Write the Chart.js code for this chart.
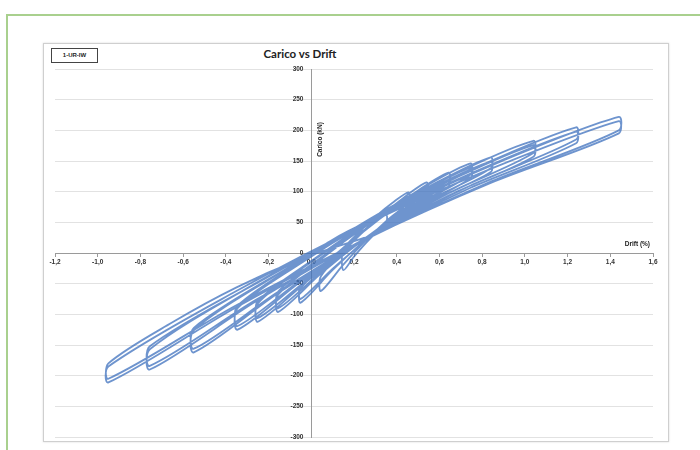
<!DOCTYPE html>
<html lang="it">
<head>
<meta charset="utf-8">
<title>Carico vs Drift</title>
<script src="https://cdn.jsdelivr.net/npm/chart.js@4.4.1/dist/chart.umd.min.js"></script>
<style>
    html, body { margin: 0; padding: 0; background: #fff; }
    body { width: 700px; height: 450px; position: relative; overflow: hidden; }
    .frame { position: absolute; left: 6px; top: 14px; width: 740px; height: 480px; border: 2px solid #a9d08e; }
    .plot-box { position: absolute; left: 43px; top: 43px; width: 624px; height: 397px; border: 1px solid #cfcfcf; box-shadow: 0 0 2px rgba(0,0,0,0.15); }
    .title { position: absolute; left: 230px; width: 140px; top: 47px; text-align: center; font: bold 11.5px 'Lato', sans-serif; color: #222; }
    .tag { position: absolute; left: 51px; top: 48px; width: 45px; height: 13px; border: 1px solid #444; font: bold 6px 'Liberation Sans', sans-serif; line-height: 13px; text-align: center; color: #222; }
    canvas { position: absolute; left: 0; top: 0; }
</style>
</head>
<body>
<div class="frame"></div>
<div class="plot-box"></div>
<div class="title">Carico vs Drift</div>
<div class="tag">1-UR-IW</div>
<canvas id="hysteresisChart" width="700" height="450"></canvas>

<script>
// Drift (%) - one row per cycle: loading branch, peak, drop, unloading branch, negative peak, rise
const drift = [
    0,
    0.088, 0.175, 0.263, 0.35, 0.35, 0.3, 0.25, 0.2, 0.15, 0.15,
    0.226, 0.303, 0.379, 0.455, 0.455, 0.353, 0.25, 0.148, 0.045, 0.045,
    0.169, 0.293, 0.416, 0.54, 0.54, 0.393, 0.245, 0.098, -0.05, -0.05,
    0.098, 0.245, 0.393, 0.54, 0.54, 0.393, 0.245, 0.098, -0.05, -0.05,
    0.123, 0.297, 0.47, 0.643, 0.643, 0.444, 0.244, 0.045, -0.155, -0.155,
    0.045, 0.244, 0.444, 0.643, 0.643, 0.444, 0.244, 0.045, -0.155, -0.155,
    0.07, 0.296, 0.521, 0.746, 0.746, 0.497, 0.248, -0.001, -0.25, -0.25,
    -0.001, 0.248, 0.497, 0.746, 0.746, 0.497, 0.248, -0.001, -0.25, -0.25,
    0.023, 0.295, 0.568, 0.84, 0.84, 0.544, 0.248, -0.049, -0.345, -0.345,
    -0.049, 0.248, 0.544, 0.84, 0.84, 0.544, 0.248, -0.049, -0.345, -0.345,
    0.001, 0.348, 0.694, 1.04, 1.04, 0.643, 0.245, -0.153, -0.55, -0.55,
    -0.153, 0.245, 0.643, 1.04, 1.04, 0.643, 0.245, -0.153, -0.55, -0.55,
    -0.103, 0.345, 0.793, 1.24, 1.24, 0.741, 0.242, -0.257, -0.756, -0.756,
    -0.257, 0.242, 0.741, 1.24, 1.24, 0.741, 0.242, -0.257, -0.756, -0.756,
    -0.207, 0.342, 0.891, 1.44, 1.44, 0.843, 0.245, -0.353, -0.95, -0.95,
    -0.353, 0.245, 0.843, 1.44, 1.44, 0.843, 0.245, -0.353, -0.95, -0.95,
    -0.65, -0.35, -0.05, 0.25
];

// Carico (kN), same order as drift
const carico = [
    0,
    19.3, 36, 50.3, 62, 48, 32, 14, -6, -28, 5,
    34.5, 60, 81.5, 99, 83, 52.7, 18.5, -19.8, -62, -38,
    9.3, 50.5, 85.8, 115, 99, 61.5, 19, -28.5, -81, -58,
    -9, 35, 74, 108, 92, 57, 17.5, -26.5, -75, -53,
    0.6, 51.5, 95.1, 131, 114, 71.3, 22, -33.7, -96, -68,
    -10.2, 41, 85.8, 124, 108, 67.5, 21, -31.5, -90, -63,
    -1, 57, 106, 146, 128, 79.3, 23, -40.7, -112, -82,
    -14.7, 44.5, 95.8, 139, 122, 75.5, 22, -38.5, -106, -78,
    -7.5, 57, 111.5, 156, 138, 85, 23.5, -46.5, -125, -90,
    -16.7, 47.5, 102.8, 149, 132, 81.2, 22.5, -44.3, -119, -86,
    -3.7, 70.5, 132.8, 183, 163, 97.5, 21.5, -65, -162, -126,
    -34, 47, 117, 176, 157, 93.7, 20.5, -62.8, -156, -122,
    -22.9, 66.5, 142.6, 205, 185, 109.2, 21.5, -78.3, -190, -157,
    -48.7, 46.5, 128.8, 198, 179, 105.5, 20.5, -76, -184, -152,
    -39.7, 62.5, 149.8, 222, 200, 116.7, 20.5, -88.8, -211, -185,
    -62.5, 45, 137.5, 215, 195, 114.5, 21, -85.5, -205, -180,
    -113, -56, -10, 25
];

const xRange = [-1.2, 1.6];
const xStep = 0.2;
const yRange = [-300, 300];
const yStep = 50;
const xTitle = 'Drift (%)';
const yTitle = 'Carico (kN)';

const AXIS_COLOR = '#9a9a9a';
const TICK_FONT = { family: "'Liberation Sans', sans-serif", size: 6.5, weight: 'bold' };

// axis titles sit next to the axes crossing at zero, like in Excel
const axisTitles = {
    id: 'axisTitles',
    afterDraw(chart) {
        const { ctx, scales: { x, y } } = chart;
        ctx.save();
        ctx.fillStyle = '#222';
        ctx.font = "bold 6.5px 'Liberation Sans', sans-serif";
        ctx.textAlign = 'right';
        ctx.textBaseline = 'bottom';
        ctx.fillText(xTitle, x.getPixelForValue(xRange[1]) - 3, y.getPixelForValue(0) - 6);
        ctx.translate(x.getPixelForValue(0) + 9, y.getPixelForValue(185));
        ctx.rotate(-Math.PI / 2);
        ctx.textAlign = 'center';
        ctx.textBaseline = 'middle';
        ctx.fillText(yTitle, 0, 0);
        ctx.restore();
    }
};

function renderChart() {
    const points = drift.map((d, i) => ({ x: d, y: carico[i] }));

    new Chart(document.getElementById('hysteresisChart'), {
        type: 'scatter',
        data: {
            datasets: [{
                label: '1-UR-IW',
                data: points,
                showLine: true,
                borderColor: 'rgba(62, 112, 190, 0.75)',
                borderWidth: 1.8,
                pointRadius: 0,
                tension: 0.3,
                fill: false
            }]
        },
        options: {
            responsive: false,
            animation: false,
            devicePixelRatio: 1,
            layout: { padding: { left: 55, right: 47, top: 69, bottom: 13 } },
            plugins: {
                legend: { display: false },
                title: { display: false },
                tooltip: { enabled: false }
            },
            scales: {
                x: {
                    type: 'linear',
                    min: xRange[0],
                    max: xRange[1],
                    position: { y: 0 },
                    z: 1,
                    afterFit: (s) => { s.height = 0; },
                    border: { color: AXIS_COLOR },
                    grid: { drawOnChartArea: false, tickLength: 3, color: AXIS_COLOR },
                    ticks: {
                        stepSize: xStep,
                        autoSkip: false,
                        maxRotation: 0,
                        padding: 2,
                        color: '#333',
                        font: TICK_FONT,
                        callback: (v) => (Math.round(v * 10) / 10).toFixed(1).replace('.', ',')
                    }
                },
                y: {
                    type: 'linear',
                    min: yRange[0],
                    max: yRange[1],
                    position: { x: 0 },
                    z: 1,
                    afterFit: (s) => { s.width = 0; },
                    border: { color: AXIS_COLOR },
                    grid: { drawOnChartArea: false, tickLength: 4, color: AXIS_COLOR },
                    ticks: {
                        stepSize: yStep,
                        color: '#333',
                        font: TICK_FONT,
                        // centred axis draws labels flush to the line, keep a gap with an em space
                        callback: (v) => v + '\u2003\u2009'
                    }
                },
                yGrid: {
                    type: 'linear',
                    axis: 'y',
                    min: yRange[0],
                    max: yRange[1],
                    position: { x: xRange[0] },
                    afterFit: (s) => { s.width = 0; },
                    border: { display: false },
                    grid: { color: '#e2e2e2', drawTicks: false },
                    ticks: { stepSize: yStep, display: false }
                }
            }
        },
        plugins: [axisTitles]
    });
}

renderChart();
</script>
</body>
</html>
